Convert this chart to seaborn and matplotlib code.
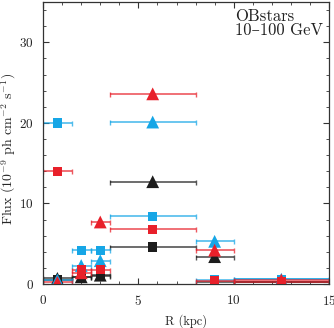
import numpy as np
import pandas as pd
import matplotlib
matplotlib.use('Agg')
import matplotlib.pyplot as plt
import seaborn as sns
from matplotlib.ticker import MultipleLocator

# radial bins (kpc)
r_lo = [0.0, 1.5, 2.5, 3.5, 8.0, 10.0]
r_hi = [1.5, 2.5, 3.5, 8.0, 10.0, 15.0]
r_mid = [0.75, 2.0, 3.0, 5.75, 9.0, 12.5]

# flux values (1e-9 ph cm^-2 s^-1)
sq_black = [0.5, 0.9, 1.0, 4.6, 0.3, 0.2]
sq_red = [14.0, 1.8, 1.8, 6.8, 0.4, 0.3]
sq_blue = [20.0, 4.2, 4.2, 8.4, 0.5, 0.6]
tri_black = [0.7, 0.9, 1.1, 12.7, 3.4, 0.3]
tri_red = [0.2, 1.4, 7.7, 23.6, 4.2, 0.5]
tri_blue = [0.5, 2.3, 2.9, 20.1, 5.3, 0.6]

colors = {'black': '#1c1c1c', 'red': '#e8202a', 'blue': '#16a6e6'}

rows = []
for name, vals, mk in [('black', sq_black, 's'), ('red', sq_red, 's'), ('blue', sq_blue, 's'),
                       ('black', tri_black, '^'), ('red', tri_red, '^'), ('blue', tri_blue, '^')]:
    for i in range(len(vals)):
        rows.append({'R': r_mid[i], 'lo': r_lo[i], 'hi': r_hi[i], 'flux': vals[i],
                     'col': name, 'mk': mk})
df = pd.DataFrame(rows)

sns.set_style('ticks')
plt.rcParams['font.family'] = ['cmr10', 'DejaVu Serif']
plt.rcParams['mathtext.fontset'] = 'cm'
plt.rcParams['axes.formatter.use_mathtext'] = True

fig = plt.figure(figsize=(3.34, 3.28), dpi=100)
ax = fig.add_axes([0.129, 0.134, 0.856, 0.86])

for (c, mk), g in df.groupby(['col', 'mk']):
    ax.errorbar(g['R'], g['flux'], xerr=[g['R'] - g['lo'], g['hi'] - g['R']], fmt='none',
                ecolor=colors[c], alpha=0.75, elinewidth=1.2, capsize=1.8, capthick=1.0, zorder=2)
    sns.scatterplot(x=g['R'], y=g['flux'], marker=mk, color=colors[c],
                    s=85 if mk == '^' else 45, edgecolor='none', ax=ax, zorder=3, legend=False)

ax.set_xlim(0, 15)
ax.set_ylim(0, 35)
ax.xaxis.set_major_locator(MultipleLocator(5))
ax.xaxis.set_minor_locator(MultipleLocator(1))
ax.yaxis.set_major_locator(MultipleLocator(10))
ax.yaxis.set_minor_locator(MultipleLocator(2))
ax.tick_params(which='both', direction='in', top=True, right=True, labelsize=9.5, colors='#333333',
               labelcolor='#222222')
ax.tick_params(which='major', length=4, width=0.8, pad=7)
ax.tick_params(axis='y', which='major', pad=6.5)
ax.tick_params(which='minor', length=2.5, width=0.6)
for s in ax.spines.values():
    s.set_color('#333333')
    s.set_linewidth(0.9)

ax.set_xlabel('R (kpc)', fontsize=9, labelpad=5)
ax.set_ylabel(r'Flux (10$^{-9}$ ph cm$^{-2}$ s$^{-1}$)', fontsize=10)
ax.yaxis.set_label_coords(-0.088, 0.48)
ax.text(0.67, 0.975, 'OBstars\n10–100 GeV', transform=ax.transAxes, ha='left', va='top',
        fontsize=12, linespacing=0.85, color='#222222')

fig.savefig('out.png', dpi=100)
